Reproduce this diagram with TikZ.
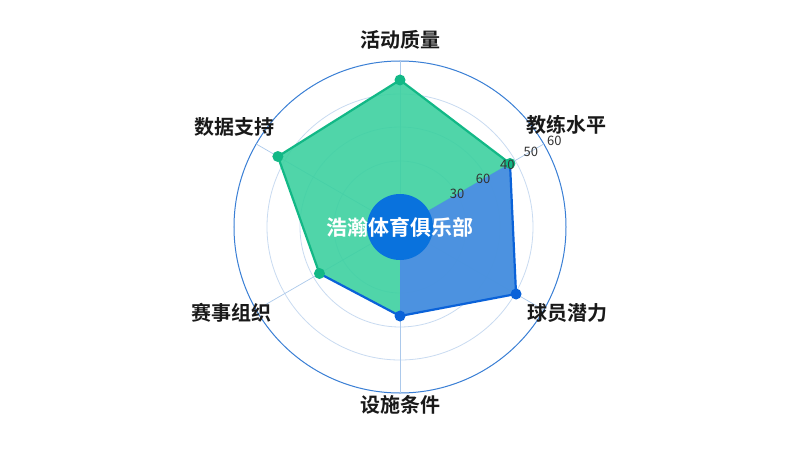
\documentclass[tikz,border=0pt]{standalone}
\usepackage{fontspec}
\setmainfont{Noto Sans CJK SC}
\newfontfamily\cjkbold{Noto Sans CJK SC Bold}
\usetikzlibrary{calc, positioning}
\definecolor{ringblue}{HTML}{C9DBF1}
\definecolor{outerblue}{HTML}{3A7FD5}
\definecolor{clubgreen}{HTML}{12B886}
\definecolor{fillgreen}{HTML}{3DD1A0}
\definecolor{clubblue}{HTML}{0A62D9}
\definecolor{fillblue}{HTML}{4C8FE3}
\tikzset{
  axislabel/.style={font=\cjkbold\fontsize{20}{20}\selectfont, text=black!90},
  ticklabel/.style={font=\fontsize{13}{13}\selectfont, text=black!80, inner sep=1pt},
  datadot/.style={circle, inner sep=0pt, minimum size=11pt}
}
\begin{document}
\begin{tikzpicture}[x=1pt, y=1pt]
  \useasboundingbox[fill=white] (-400,-223) rectangle (400,227);
  \coordinate (c) at (0,0);

  % rings and spokes
  \foreach \r in {66,100,133}
    \draw[ringblue, line width=0.8pt] (c) circle (\r);
  \draw[outerblue, line width=1pt] (c) circle (166);
  \foreach \a in {90,30,-30,-90,-150,150}
    \draw[ringblue!80!outerblue, line width=0.7pt] (c) -- (\a:166);

  % data points
  \coordinate (p1) at (90:147);
  \coordinate (p2) at (30:127);
  \coordinate (p3) at (-30:134);
  \coordinate (p4) at (-90:89);
  \coordinate (p5) at (-150:93);
  \coordinate (p6) at (150:141);

  % fill, blue between the spokes 30 and -90, green elsewhere
  \fill[fillgreen, opacity=0.9] (p1) -- (p2) -- (p3) -- (p4) -- (p5) -- (p6) -- cycle;
  \fill[fillblue, opacity=0.95] (c) -- (p2) -- (p3) -- (p4) -- cycle;
  \draw[clubgreen, line width=2.2pt, line join=round] (p5) -- (p6) -- (p1) -- (p2);
  \draw[clubblue, line width=2.2pt, line join=round] (p2) -- (p3) -- (p4) -- (p5);

  \foreach \p/\col in {p1/clubgreen, p2/clubgreen, p6/clubgreen, p5/clubgreen, p3/clubblue, p4/clubblue}
    \node[datadot, fill=\col] at (\p) {};

  % tick labels
  \node[ticklabel] (t30) at (30:66) {30};
  \node[ticklabel] (t60a) at (30:96) {60};
  \node[ticklabel] (t40) at (30:124) {40};
  \node[ticklabel] (t50) at (30:151) {50};
  \node[ticklabel] (t60b) at ($(30:176)+(2,-2)$) {60};

  % center badge
  \fill[clubblue!90!cyan] (c) circle (33);
  \node[font=\cjkbold\fontsize{21}{21}\selectfont, text=white] (club) at (c) {浩瀚体育俱乐部};

  % axis labels
  \node[axislabel] (huodong) at (0,187) {活动质量};
  \node[axislabel] (jiaolian) at (166,102) {教练水平};
  \node[axislabel] (qiuyuan) at (167,-86) {球员潜力};
  \node[axislabel] (sheshi) at (0,-178) {设施条件};
  \node[axislabel] (saishi) at (-168,-86) {赛事组织};
  \node[axislabel] (shuju) at (-165,100) {数据支持};
\end{tikzpicture}
\end{document}
